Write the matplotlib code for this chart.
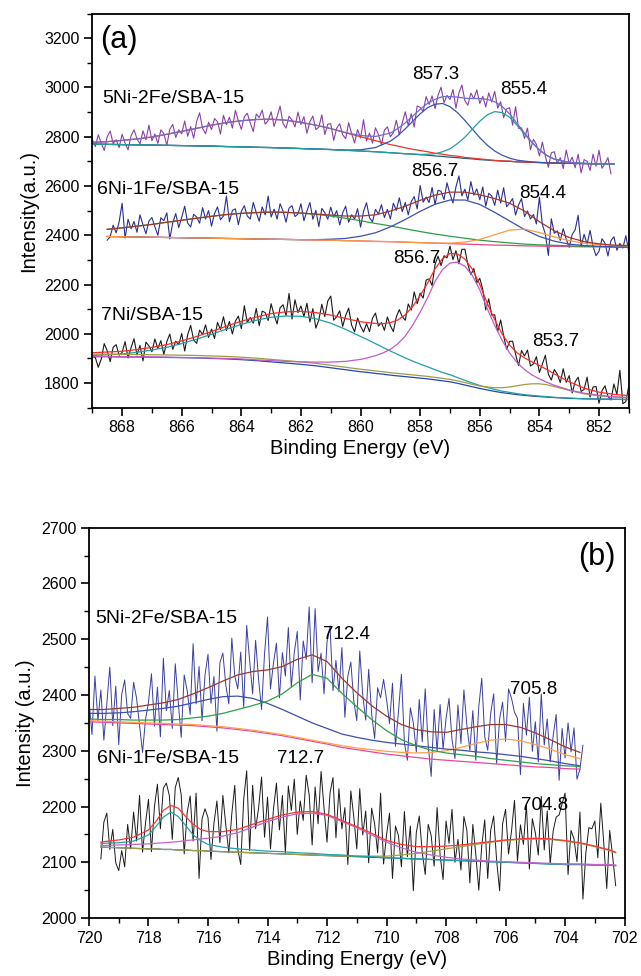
import numpy as np
import matplotlib.pyplot as plt
from matplotlib.ticker import MultipleLocator

plt.rcParams["font.family"] = ["Liberation Sans", "DejaVu Sans"]

# ---------------- panel (a): Ni 2p ----------------
# raw spectra (0.1 eV steps)
raw_a1 = [2789, 2760, 2808, 2774, 2744, 2800, 2823, 2772, 2788, 2756,
          2810, 2774, 2747, 2804, 2828, 2791, 2771, 2824, 2788, 2847,
          2784, 2811, 2773, 2828, 2813, 2765, 2830, 2850, 2797, 2828,
          2812, 2864, 2802, 2841, 2794, 2862, 2897, 2834, 2812, 2859,
          2829, 2874, 2861, 2811, 2887, 2849, 2879, 2835, 2907, 2865,
          2830, 2881, 2895, 2856, 2821, 2892, 2878, 2908, 2851, 2866,
          2901, 2842, 2882, 2924, 2853, 2835, 2883, 2868, 2840, 2900,
          2850, 2881, 2814, 2861, 2884, 2829, 2839, 2889, 2809, 2851,
          2853, 2785, 2835, 2853, 2808, 2792, 2857, 2812, 2775, 2829,
          2795, 2869, 2783, 2815, 2774, 2836, 2809, 2767, 2827, 2840,
          2800, 2817, 2867, 2808, 2857, 2901, 2845, 2893, 2839, 2925,
          2919, 2903, 2963, 2931, 2966, 2914, 2969, 3001, 2938, 2968,
          2951, 2992, 2916, 2978, 3010, 2946, 2928, 2977, 2955, 2990,
          2935, 2964, 2921, 2978, 2941, 2984, 2916, 2942, 2877, 2913,
          2918, 2847, 2922, 2834, 2836, 2793, 2835, 2747, 2789, 2769,
          2722, 2778, 2721, 2676, 2735, 2739, 2691, 2715, 2671, 2746,
          2691, 2717, 2674, 2729, 2653, 2707, 2700, 2663, 2729, 2680,
          2745, 2672, 2690, 2715, 2650]
raw_a2 = [2380, 2395, 2441, 2410, 2454, 2530, 2389, 2465, 2426, 2456,
          2412, 2483, 2442, 2406, 2458, 2472, 2434, 2400, 2471, 2459,
          2491, 2385, 2451, 2488, 2431, 2473, 2518, 2449, 2434, 2485,
          2474, 2449, 2512, 2466, 2500, 2437, 2488, 2515, 2463, 2478,
          2559, 2455, 2501, 2507, 2443, 2497, 2520, 2478, 2466, 2533,
          2492, 2457, 2515, 2483, 2559, 2474, 2506, 2466, 2528, 2498,
          2453, 2510, 2520, 2476, 2486, 2528, 2459, 2498, 2533, 2465,
          2501, 2435, 2509, 2492, 2465, 2514, 2473, 2500, 2442, 2491,
          2518, 2453, 2483, 2466, 2508, 2433, 2497, 2532, 2471, 2454,
          2505, 2486, 2524, 2472, 2505, 2466, 2530, 2501, 2552, 2496,
          2533, 2483, 2536, 2557, 2507, 2602, 2534, 2555, 2533, 2594,
          2525, 2583, 2578, 2545, 2613, 2567, 2531, 2596, 2641, 2560,
          2587, 2543, 2618, 2563, 2588, 2544, 2596, 2518, 2570, 2560,
          2521, 2583, 2531, 2593, 2516, 2530, 2549, 2482, 2523, 2549,
          2476, 2499, 2466, 2484, 2446, 2555, 2443, 2405, 2318, 2467,
          2408, 2418, 2379, 2427, 2384, 2351, 2403, 2422, 2481, 2355,
          2404, 2364, 2420, 2354, 2317, 2335, 2386, 2368, 2316, 2378,
          2394, 2339, 2367, 2348, 2398, 2333]
raw_a3 = [1907, 1904, 1864, 1897, 1960, 1931, 1887, 1945, 1956, 1913,
          1924, 1968, 1902, 1943, 1980, 1914, 1953, 1890, 1966, 1951,
          1927, 1979, 1941, 1972, 1916, 1968, 1999, 1937, 1970, 1956,
          2001, 1930, 1996, 2034, 1975, 1961, 2015, 1997, 2036, 1985,
          2019, 1981, 2046, 2017, 2069, 2013, 2050, 1999, 2051, 2072,
          2021, 2114, 2046, 2066, 2043, 2103, 2033, 2092, 2086, 2054,
          2122, 2075, 2040, 2106, 2118, 2074, 2164, 2060, 2138, 2086,
          2113, 2070, 2124, 2048, 2102, 2023, 2056, 2120, 2070, 2133,
          2153, 2055, 2070, 2093, 2030, 2074, 2104, 2035, 2008, 2064,
          2031, 2007, 2041, 2009, 2063, 2084, 2031, 2046, 2014, 2068,
          2033, 2009, 2069, 2098, 2069, 2055, 2121, 2096, 2170, 2122,
          2165, 2145, 2218, 2223, 2196, 2282, 2315, 2277, 2317, 2308,
          2356, 2301, 2337, 2284, 2343, 2343, 2282, 2240, 2265, 2207,
          2225, 2180, 2097, 2142, 2076, 2077, 2009, 2056, 1992, 1937,
          1969, 1970, 1917, 1871, 1932, 1910, 1934, 1869, 1878, 1907,
          1843, 1877, 1913, 1836, 1812, 1855, 1836, 1802, 1858, 1803,
          1830, 1760, 1805, 1824, 1766, 1774, 1824, 1743, 1784, 1786,
          1718, 1769, 1789, 1746, 1731, 1796, 1753, 1852, 1716, 1725,
          1789]
raw_a_range = [(869.0, 851.6), (868.5, 851.0), (869.0, 851.0)]

# fitted curves, 5Ni-2Fe/SBA-15
e_a1 = [869, 868.5, 868, 867.5, 867, 866.5, 866, 865.5, 865, 864.5, 864, 863.5,
        863, 862.5, 862, 861.5, 861, 860.5, 860, 859.5, 859, 858.75, 858.5,
        858.25, 858, 857.75, 857.5, 857.25, 857, 856.75, 856.5, 856.25, 856,
        855.75, 855.5, 855.25, 855, 854.75, 854.5, 854.25, 854, 853.75, 853.5,
        853, 852.5, 852, 851.5]
bg_a1 = [2770, 2769, 2768, 2767, 2766, 2765, 2764, 2763, 2762, 2760, 2759, 2757,
         2756, 2754, 2752, 2750, 2748, 2745, 2742, 2739, 2735, 2733, 2731, 2729,
         2727, 2725, 2722, 2720, 2717, 2715, 2712, 2710, 2707, 2705, 2703, 2701,
         2700, 2698, 2697, 2696, 2695, 2694, 2693, 2692, 2691, 2690, 2690]
sat_a1 = [2777, 2780, 2785, 2791, 2799, 2810, 2822, 2834, 2847, 2857, 2865, 2870,
          2871, 2867, 2858, 2847, 2833, 2816, 2800, 2784, 2768, 2762, 2755, 2749,
          2744, 2739, 2733, 2729, 2724, 2721, 2716, 2713, 2710, 2707, 2704, 2702,
          2701, 2698, 2697, 2696, 2695, 2694, 2693, 2692, 2691, 2690, 2690]
pk1_a1 = [2770, 2769, 2768, 2767, 2766, 2765, 2764, 2763, 2762, 2760, 2759, 2757,
          2756, 2754, 2752, 2750, 2748, 2746, 2747, 2756, 2782, 2804, 2832, 2863,
          2893, 2918, 2932, 2935, 2922, 2898, 2866, 2831, 2796, 2766, 2742, 2725,
          2713, 2705, 2701, 2698, 2696, 2694, 2693, 2692, 2691, 2690, 2690]
pk2_a1 = [2770, 2769, 2768, 2767, 2766, 2765, 2764, 2763, 2762, 2760, 2759, 2757,
          2756, 2754, 2752, 2750, 2748, 2745, 2742, 2739, 2735, 2733, 2731, 2730,
          2728, 2729, 2731, 2739, 2751, 2772, 2798, 2831, 2863, 2889, 2902, 2898,
          2879, 2847, 2811, 2776, 2746, 2724, 2709, 2696, 2692, 2690, 2690]
env_a1 = [2777, 2780, 2785, 2791, 2799, 2810, 2822, 2834, 2847, 2857, 2865, 2870,
          2871, 2867, 2858, 2847, 2833, 2817, 2805, 2801, 2815, 2833, 2856, 2884,
          2911, 2936, 2952, 2963, 2963, 2961, 2956, 2955, 2955, 2952, 2942, 2923,
          2893, 2854, 2815, 2778, 2747, 2724, 2709, 2696, 2692, 2690, 2690]

# fitted curves, 6Ni-1Fe/SBA-15
e_a2 = [868.5, 868, 867.5, 867, 866.5, 866, 865.5, 865, 864.5, 864, 863.5, 863,
        862.5, 862, 861.5, 861, 860.5, 860, 859.5, 859, 858.5, 858, 857.5, 857,
        856.5, 856, 855.5, 855, 854.5, 854, 853.5, 853, 852.5, 852, 851.5, 851]
bg_a2 = [2395, 2394, 2393, 2392, 2391, 2390, 2389, 2388, 2387, 2386, 2385, 2384,
         2383, 2382, 2381, 2380, 2378, 2377, 2375, 2374, 2372, 2370, 2368, 2366,
         2364, 2362, 2360, 2359, 2357, 2356, 2355, 2354, 2353, 2353, 2352, 2352]
sat_a2 = [2424, 2430, 2437, 2444, 2453, 2461, 2469, 2477, 2484, 2489, 2492, 2494,
          2493, 2490, 2485, 2478, 2469, 2459, 2448, 2438, 2426, 2415, 2405, 2396,
          2388, 2380, 2374, 2369, 2364, 2361, 2359, 2357, 2355, 2354, 2353, 2353]
pk1_a2 = [2395, 2394, 2393, 2392, 2391, 2390, 2389, 2388, 2387, 2386, 2385, 2384,
          2383, 2382, 2382, 2384, 2387, 2396, 2410, 2434, 2464, 2497, 2526, 2543,
          2543, 2525, 2493, 2458, 2423, 2395, 2376, 2364, 2358, 2355, 2353, 2352]
pk2_a2 = [2395, 2394, 2393, 2392, 2391, 2390, 2389, 2388, 2387, 2386, 2385, 2384,
          2383, 2382, 2381, 2380, 2378, 2377, 2375, 2374, 2372, 2370, 2368, 2368,
          2372, 2383, 2402, 2421, 2425, 2411, 2393, 2378, 2367, 2362, 2358, 2357]
env_a2 = [2424, 2430, 2437, 2444, 2453, 2461, 2469, 2477, 2484, 2489, 2492, 2494,
          2493, 2490, 2486, 2482, 2478, 2478, 2483, 2498, 2518, 2542, 2563, 2575,
          2575, 2564, 2549, 2530, 2498, 2455, 2418, 2391, 2374, 2365, 2360, 2358]

# fitted curves, 7Ni/SBA-15
e_a3 = [869, 868.5, 868, 867.5, 867, 866.5, 866, 865.5, 865, 864.5, 864, 863.5,
        863, 862.5, 862, 861.5, 861, 860.5, 860, 859.75, 859.5, 859.25, 859,
        858.75, 858.5, 858.25, 858, 857.75, 857.5, 857.25, 857, 856.75, 856.5,
        856.25, 856, 855.75, 855.5, 855.25, 855, 854.75, 854.5, 854.25, 854,
        853.75, 853.5, 853, 852.5, 852, 851.5, 851]
bg_a3 = [1907, 1907, 1906, 1906, 1905, 1904, 1903, 1902, 1900, 1898, 1895, 1891,
         1886, 1881, 1876, 1870, 1862, 1854, 1846, 1843, 1839, 1836, 1832, 1829,
         1826, 1823, 1820, 1817, 1813, 1809, 1805, 1799, 1792, 1785, 1778, 1772,
         1766, 1761, 1757, 1753, 1750, 1747, 1745, 1743, 1741, 1738, 1736, 1735,
         1734, 1733]
sat_a3 = [1912, 1915, 1918, 1925, 1934, 1945, 1960, 1978, 1998, 2019, 2038, 2055,
          2067, 2072, 2071, 2061, 2043, 2018, 1989, 1975, 1960, 1945, 1930, 1916,
          1902, 1889, 1877, 1866, 1854, 1843, 1834, 1822, 1811, 1800, 1790, 1782,
          1774, 1767, 1762, 1757, 1753, 1750, 1747, 1745, 1742, 1739, 1736, 1735,
          1734, 1733]
pk1_a3 = [1908, 1908, 1907, 1907, 1906, 1905, 1904, 1903, 1901, 1900, 1898, 1894,
          1891, 1888, 1886, 1885, 1885, 1888, 1896, 1903, 1911, 1922, 1937, 1959,
          1991, 2035, 2088, 2147, 2213, 2261, 2287, 2291, 2274, 2237, 2178, 2102,
          2034, 1973, 1922, 1883, 1855, 1833, 1817, 1803, 1791, 1772, 1759, 1750,
          1744, 1740]
pk2_a3 = [1917, 1917, 1916, 1916, 1915, 1914, 1913, 1912, 1910, 1908, 1905, 1901,
          1896, 1891, 1886, 1880, 1872, 1864, 1856, 1853, 1849, 1846, 1842, 1839,
          1836, 1833, 1830, 1827, 1823, 1819, 1815, 1809, 1802, 1795, 1788, 1784,
          1781, 1781, 1784, 1789, 1794, 1797, 1797, 1793, 1786, 1770, 1756, 1748,
          1744, 1742]
env_a3 = [1923, 1926, 1929, 1936, 1945, 1956, 1971, 1989, 2009, 2031, 2051, 2068,
          2082, 2089, 2091, 2086, 2076, 2062, 2049, 2045, 2042, 2041, 2045, 2056,
          2077, 2111, 2155, 2206, 2264, 2305, 2326, 2324, 2303, 2262, 2200, 2124,
          2057, 1999, 1954, 1923, 1902, 1886, 1871, 1855, 1837, 1805, 1779, 1763,
          1754, 1749]

# ---------------- panel (b): Fe 2p ----------------
raw_b1 = [2392, 2329, 2434, 2354, 2409, 2319, 2384, 2450, 2345, 2416,
          2311, 2401, 2427, 2367, 2358, 2423, 2394, 2345, 2297, 2356,
          2387, 2438, 2344, 2414, 2325, 2466, 2372, 2408, 2340, 2456,
          2387, 2324, 2436, 2408, 2365, 2492, 2384, 2451, 2354, 2436,
          2473, 2385, 2433, 2335, 2458, 2475, 2417, 2384, 2502, 2434,
          2411, 2477, 2378, 2525, 2461, 2402, 2498, 2428, 2374, 2474,
          2540, 2411, 2457, 2493, 2395, 2476, 2434, 2521, 2414, 2476,
          2514, 2391, 2497, 2464, 2558, 2422, 2555, 2442, 2475, 2402,
          2495, 2524, 2408, 2462, 2406, 2485, 2360, 2434, 2459, 2389,
          2354, 2479, 2400, 2355, 2446, 2366, 2322, 2413, 2395, 2428,
          2392, 2349, 2421, 2308, 2370, 2437, 2315, 2283, 2377, 2350,
          2298, 2392, 2316, 2411, 2310, 2254, 2374, 2299, 2383, 2303,
          2358, 2394, 2320, 2286, 2382, 2313, 2409, 2345, 2301, 2372,
          2283, 2379, 2430, 2325, 2301, 2367, 2402, 2277, 2357, 2387,
          2317, 2411, 2394, 2369, 2358, 2257, 2385, 2328, 2396, 2299,
          2352, 2280, 2402, 2310, 2357, 2280, 2327, 2365, 2247, 2340,
          2287, 2350, 2298, 2341, 2249, 2267, 2310]
raw_b2 = [2106, 2172, 2188, 2123, 2159, 2099, 2085, 2121, 2092, 2168,
          2124, 2190, 2138, 2220, 2118, 2170, 2213, 2119, 2200, 2240,
          2160, 2233, 2242, 2220, 2141, 2234, 2252, 2221, 2115, 2189,
          2219, 2138, 2224, 2071, 2178, 2196, 2180, 2105, 2170, 2210,
          2135, 2220, 2166, 2117, 2187, 2238, 2124, 2096, 2213, 2264,
          2121, 2238, 2160, 2197, 2253, 2145, 2217, 2124, 2195, 2242,
          2158, 2220, 2116, 2237, 2193, 2249, 2150, 2210, 2175, 2256,
          2221, 2131, 2235, 2169, 2263, 2197, 2136, 2224, 2252, 2144,
          2232, 2160, 2198, 2096, 2228, 2181, 2124, 2232, 2149, 2192,
          2099, 2197, 2169, 2117, 2224, 2097, 2149, 2188, 2071, 2165,
          2148, 2092, 2191, 2110, 2165, 2049, 2153, 2183, 2118, 2078,
          2168, 2148, 2093, 2198, 2113, 2069, 2174, 2134, 2195, 2100,
          2141, 2086, 2182, 2157, 2063, 2168, 2114, 2050, 2130, 2176,
          2071, 2157, 2183, 2103, 2049, 2169, 2195, 2115, 2156, 2211,
          2102, 2167, 2132, 2203, 2088, 2178, 2153, 2113, 2218, 2122,
          2192, 2097, 2156, 2181, 2185, 2205, 2224, 2078, 2157, 2142,
          2101, 2190, 2034, 2118, 2162, 2160, 2174, 2108, 2206, 2135,
          2053, 2157, 2110, 2058]
raw_b_range = [(720.0, 703.4), (719.6, 702.3)]

# fitted curves, 5Ni-2Fe/SBA-15
e_b1 = [720, 719.5, 719, 718.5, 718, 717.5, 717, 716.5, 716, 715.5, 715, 714.5,
        714, 713.5, 713, 712.5, 712, 711.5, 711, 710.5, 710, 709.5, 709, 708.5,
        708, 707.5, 707, 706.5, 706, 705.5, 705, 704.5, 704, 703.5]
bg_b1 = [2352, 2351, 2350, 2349, 2348, 2347, 2346, 2345, 2343, 2341, 2338, 2335,
         2331, 2327, 2322, 2317, 2312, 2306, 2302, 2298, 2294, 2291, 2288, 2285,
         2283, 2281, 2279, 2277, 2275, 2273, 2271, 2270, 2268, 2267]
pk1_b1 = [2367, 2367, 2368, 2370, 2373, 2376, 2380, 2386, 2392, 2397, 2398, 2394,
          2385, 2374, 2362, 2350, 2340, 2330, 2324, 2319, 2315, 2312, 2309, 2306,
          2303, 2301, 2298, 2296, 2293, 2290, 2286, 2282, 2277, 2273]
pk2_b1 = [2357, 2356, 2356, 2355, 2355, 2355, 2356, 2359, 2362, 2367, 2374, 2381,
          2389, 2402, 2422, 2437, 2430, 2403, 2379, 2356, 2336, 2320, 2309, 2301,
          2296, 2293, 2290, 2286, 2283, 2280, 2277, 2275, 2273, 2272]
pk3_b1 = [2354, 2353, 2352, 2351, 2350, 2349, 2348, 2347, 2345, 2343, 2340, 2337,
          2333, 2329, 2324, 2319, 2314, 2309, 2305, 2302, 2299, 2297, 2296, 2297,
          2300, 2306, 2313, 2319, 2321, 2318, 2311, 2303, 2293, 2286]
env_b1 = [2374, 2374, 2376, 2378, 2382, 2386, 2392, 2402, 2413, 2425, 2436, 2442,
          2445, 2451, 2464, 2472, 2460, 2430, 2404, 2381, 2362, 2347, 2338, 2334,
          2333, 2338, 2343, 2347, 2347, 2342, 2332, 2320, 2307, 2297]

# fitted curves, 6Ni-1Fe/SBA-15
e_b2 = [719.6, 719.5, 719, 718.5, 718, 717.75, 717.5, 717.25, 717, 716.75, 716.5,
        716.25, 716, 715.5, 715, 714.5, 714, 713.5, 713, 712.5, 712, 711.5, 711,
        710.5, 710, 709.5, 709, 708.5, 708, 707.5, 707, 706.5, 706, 705.5, 705,
        704.5, 704, 703.5, 703, 702.5, 702.3]
bg_b2 = [2127, 2127, 2126, 2125, 2124, 2124, 2123, 2123, 2122, 2122, 2121, 2121,
         2120, 2119, 2118, 2117, 2116, 2115, 2114, 2113, 2112, 2111, 2110, 2109,
         2108, 2107, 2106, 2105, 2104, 2103, 2102, 2101, 2100, 2099, 2098, 2097,
         2096, 2096, 2095, 2095, 2094]
pk1_b2 = [2133, 2134, 2135, 2138, 2149, 2164, 2181, 2190, 2182, 2166, 2149, 2139,
          2132, 2127, 2124, 2122, 2120, 2119, 2117, 2116, 2114, 2113, 2111, 2110,
          2108, 2107, 2106, 2105, 2104, 2103, 2102, 2101, 2100, 2099, 2098, 2097,
          2096, 2096, 2095, 2095, 2094]
pk2_b2 = [2130, 2130, 2131, 2132, 2133, 2134, 2135, 2136, 2137, 2139, 2140, 2142,
          2143, 2147, 2153, 2163, 2173, 2181, 2187, 2188, 2184, 2173, 2162, 2149,
          2136, 2126, 2118, 2113, 2109, 2106, 2104, 2102, 2101, 2100, 2099, 2098,
          2097, 2097, 2096, 2096, 2095]
pk3_b2 = [2127, 2127, 2126, 2125, 2124, 2124, 2123, 2123, 2122, 2122, 2121, 2121,
          2120, 2119, 2118, 2117, 2116, 2115, 2114, 2113, 2112, 2111, 2111, 2111,
          2111, 2113, 2116, 2120, 2124, 2128, 2132, 2136, 2139, 2141, 2142, 2141,
          2138, 2134, 2128, 2121, 2117]
env_b2 = [2136, 2137, 2140, 2145, 2158, 2173, 2193, 2202, 2197, 2182, 2168, 2159,
          2155, 2155, 2159, 2168, 2177, 2185, 2190, 2191, 2186, 2175, 2164, 2152,
          2139, 2132, 2128, 2128, 2129, 2131, 2134, 2137, 2140, 2142, 2143, 2142,
          2139, 2135, 2129, 2122, 2118]

lw = 0.9
fig = plt.figure(figsize=(6.41, 9.76), dpi=100)
ax1 = fig.add_axes([0.144, 0.5823, 0.837, 0.4038])
ax2 = fig.add_axes([0.1388, 0.0594, 0.8356, 0.3999])

# panel (a) curves
for raw, (e0, e1), col in zip([raw_a1, raw_a2, raw_a3], raw_a_range,
                              ["#8B3FA6", "#2B2F8F", "#1A1A1A"]):
    ax1.plot(np.linspace(e0, e1, len(raw)), raw, color=col, lw=0.8)

ax1.plot(e_a1, bg_a1, color="#1F5F7A", lw=lw)
ax1.plot(e_a1, sat_a1, color="#E8372F", lw=lw)
ax1.plot(e_a1, pk1_a1, color="#3556B0", lw=lw)
ax1.plot(e_a1, pk2_a1, color="#22A0A0", lw=lw)
ax1.plot(e_a1, env_a1, color="#6E6ED2", lw=lw)

ax1.plot(e_a2, bg_a2, color="#E8458C", lw=lw)
ax1.plot(e_a2, sat_a2, color="#2E9E45", lw=lw)
ax1.plot(e_a2, pk1_a2, color="#3D4FB0", lw=lw)
ax1.plot(e_a2, pk2_a2, color="#FF9A3D", lw=lw)
ax1.plot(e_a2, env_a2, color="#A3372C", lw=lw)

ax1.plot(e_a3, bg_a3, color="#2346B8", lw=lw)
ax1.plot(e_a3, sat_a3, color="#20A0A0", lw=lw)
ax1.plot(e_a3, pk2_a3, color="#9E9E40", lw=lw)
ax1.plot(e_a3, pk1_a3, color="#C45AC8", lw=lw)
ax1.plot(e_a3, env_a3, color="#FF2A2A", lw=lw)

# panel (b) curves
for raw, (e0, e1), col in zip([raw_b1, raw_b2], raw_b_range,
                              ["#3A3F9F", "#1A1A1A"]):
    ax2.plot(np.linspace(e0, e1, len(raw)), raw, color=col, lw=0.7)

ax2.plot(e_b1, bg_b1, color="#E8489A", lw=lw)
ax2.plot(e_b1, pk3_b1, color="#FF9F4D", lw=lw)
ax2.plot(e_b1, pk1_b1, color="#3D4FB0", lw=lw)
ax2.plot(e_b1, pk2_b1, color="#2EA045", lw=lw)
ax2.plot(e_b1, env_b1, color="#9A3A2B", lw=lw)

ax2.plot(e_b2, bg_b2, color="#2450B5", lw=lw)
ax2.plot(e_b2, pk3_b2, color="#A0A040", lw=lw)
ax2.plot(e_b2, pk1_b2, color="#22A3A3", lw=lw)
ax2.plot(e_b2, pk2_b2, color="#C266CC", lw=lw)
ax2.plot(e_b2, env_b2, color="#FF3333", lw=lw)

# labels
ax1.text(868.73, 3192, "(a)", fontsize=22, va="center", ha="left")
ax1.text(868.68, 2956, "5Ni-2Fe/SBA-15", fontsize=14, va="center", ha="left")
ax1.text(868.85, 2586, "6Ni-1Fe/SBA-15", fontsize=14, va="center", ha="left")
ax1.text(868.72, 2076, "7Ni/SBA-15", fontsize=14, va="center", ha="left")
for s, x, y in [("857.3", 857.48, 3054), ("855.4", 854.53, 2991),
                ("856.7", 857.5, 2657), ("854.4", 853.9, 2570),
                ("856.7", 858.1, 2306), ("853.7", 853.45, 1968)]:
    ax1.text(x, y, s, fontsize=13.5, ha="center", va="center")

ax2.text(702.93, 2648, "(b)", fontsize=22, va="center", ha="center")
ax2.text(719.8, 2538, "5Ni-2Fe/SBA-15", fontsize=14, va="center", ha="left")
ax2.text(719.74, 2287, "6Ni-1Fe/SBA-15", fontsize=14, va="center", ha="left")
for s, x, y in [("712.4", 711.36, 2508), ("705.8", 705.07, 2410),
                ("712.7", 712.9, 2287), ("704.8", 704.7, 2201)]:
    ax2.text(x, y, s, fontsize=13.5, ha="center", va="center")

# axes
ax1.set_xlim(869, 851)
ax1.set_ylim(1700, 3300)
ax1.set_xticks(np.arange(868, 851, -2))
ax1.xaxis.set_minor_locator(MultipleLocator(1))
ax1.set_yticks(np.arange(1800, 3201, 200))
ax1.yaxis.set_minor_locator(MultipleLocator(100))
ax1.set_xlabel("Binding Energy (eV)", fontsize=14.5, labelpad=3)
ax1.set_ylabel("Intensity(a.u.)", fontsize=14.5, labelpad=4)

ax2.set_xlim(720, 702)
ax2.set_ylim(2000, 2700)
ax2.set_xticks(np.arange(720, 701, -2))
ax2.xaxis.set_minor_locator(MultipleLocator(1))
ax2.set_yticks(np.arange(2000, 2701, 100))
ax2.yaxis.set_minor_locator(MultipleLocator(50))
ax2.set_xlabel("Binding Energy (eV)", fontsize=14.5, labelpad=3)
ax2.set_ylabel("Intensity (a.u.)", fontsize=14.5, labelpad=4)

for ax in (ax1, ax2):
    for sp in ax.spines.values():
        sp.set_linewidth(1.3)
    ax.tick_params(which="major", direction="out", length=5.5, width=1.2,
                   labelsize=11.5, top=False, right=False)
    ax.tick_params(which="minor", direction="out", length=3.5, width=1.0,
                   top=False, right=False)

fig.savefig("out.png", dpi=100)
